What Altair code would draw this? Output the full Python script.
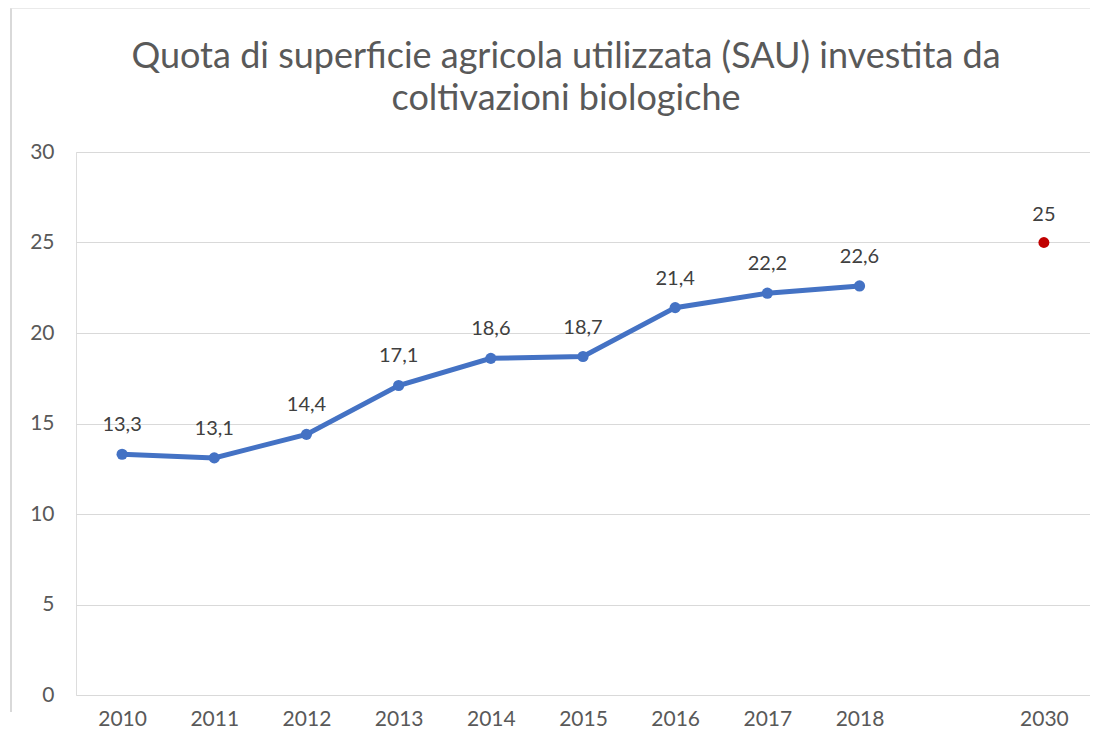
import altair as alt
import pandas as pd

years = ["2010", "2011", "2012", "2013", "2014", "2015", "2016", "2017", "2018"]
values = [13.3, 13.1, 14.4, 17.1, 18.6, 18.7, 21.4, 22.2, 22.6]
target_year = ["2030"]
target_value = [25]
x_domain = years + [" "] + target_year
y_ticks = [0, 5, 10, 15, 20, 25, 30]
title_lines = ["Quota di superficie agricola utilizzata (SAU) investita da", "coltivazioni biologiche"]

def fmt(v):
    s = ("%.1f" % v) if v != int(v) else str(int(v))
    return s.replace(".", ",")

hist = pd.DataFrame({"anno": years, "quota": values, "label": [fmt(v) for v in values]})
targ = pd.DataFrame({"anno": target_year, "quota": target_value, "label": [fmt(v) for v in target_value]})

FONT = "Lato"
GRAY = "#595959"

x = alt.X("anno:N", scale=alt.Scale(type="point", domain=x_domain, padding=0.5),
          axis=alt.Axis(title=None, labelAngle=0, ticks=False, domain=False,
                        labelFontSize=21, labelColor=GRAY, labelFont=FONT,
                        labelPadding=13, grid=False))
y = alt.Y("quota:Q", scale=alt.Scale(domain=[0, 30], nice=False, zero=True),
          axis=alt.Axis(title=None, values=y_ticks, ticks=False, domain=False,
                        labelFontSize=21, labelColor=GRAY, labelFont=FONT,
                        labelPadding=22, gridColor="#d9d9d9", gridWidth=1.2))

line = alt.Chart(hist).mark_line(color="#4472C4", strokeWidth=5).encode(x=x, y=y)
pts = alt.Chart(hist).mark_point(filled=True, color="#4472C4", size=125, opacity=1).encode(x=x, y=y)
lbl = alt.Chart(hist).mark_text(dy=-23, baseline="alphabetic", fontSize=20, color="#404040", font=FONT).encode(
    x=x, y=y, text="label:N")
tpt = alt.Chart(targ).mark_point(filled=True, color="#C00000", size=120, opacity=1).encode(x=x, y=y)
tlbl = alt.Chart(targ).mark_text(dy=-22, baseline="alphabetic", fontSize=20, color="#404040", font=FONT).encode(
    x=x, y=y, text="label:N")

# chart title as text (two lines)
ttl = alt.Chart(pd.DataFrame({"t": ["\n".join(title_lines)]})).mark_text(
    fontSize=36, font=FONT, color=GRAY, align="center", baseline="alphabetic",
    lineBreak="\n", lineHeight=42).encode(x=alt.value(490), y=alt.value(-84), text="t:N")

# chart-area frame (decorative, left and top edges)
frame_left = alt.Chart(pd.DataFrame({"k": [0]})).mark_rule(color="#d9d9d9", strokeWidth=2).encode(
    x=alt.value(-65), y=alt.value(-144), y2=alt.value(560))
frame_top = alt.Chart(pd.DataFrame({"k": [0]})).mark_rule(color="#e3e3e3", strokeWidth=1.5).encode(
    x=alt.value(-66), x2=alt.value(1020), y=alt.value(-144))

chart = alt.layer(frame_left, frame_top, ttl, line, pts, lbl, tpt, tlbl).properties(
    width=1014, height=543,
    padding={"left": 68, "top": 144, "right": 0, "bottom": 50},
    autosize=alt.AutoSizeParams(type="none"),
).configure_view(stroke=None).configure(background="white")

chart.save("out.html", embed_options={"renderer": "svg", "actions": False})
